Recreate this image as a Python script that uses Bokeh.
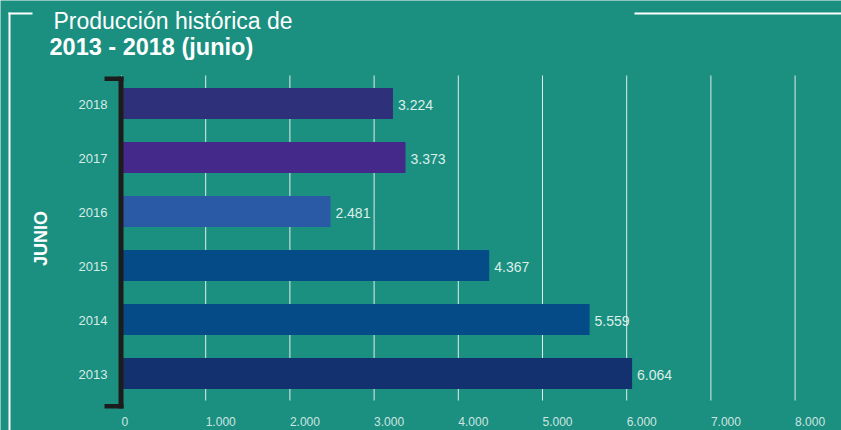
import math
from bokeh.plotting import figure
from bokeh.models import Range1d, ColumnDataSource
from bokeh.core.properties import value
from bokeh.embed import file_html
from bokeh.resources import INLINE

# ---------------- data ----------------
years = [2013, 2014, 2015, 2016, 2017, 2018]
year_labels = ["2013", "2014", "2015", "2016", "2017", "2018"]
production = [6064, 5559, 4367, 2481, 3373, 3224]
value_labels = ["6.064", "5.559", "4.367", "2.481", "3.373", "3.224"]
bar_colors = ["#13316e", "#054b88", "#054b88", "#2a5aa6", "#45298a", "#2e3179"]
x_ticks = [0, 1000, 2000, 3000, 4000, 5000, 6000, 7000, 8000]
x_tick_labels = ["0", "1.000", "2.000", "3.000", "4.000", "5.000", "6.000", "7.000", "8.000"]
title_line1 = "Producción histórica de"
title_line2 = "2013 - 2018 (junio)"
side_label = "JUNIO"

# ---------------- layout / style ----------------
BG = "#1b8f80"
FONT = "Liberation Sans"
W, H = 841, 430
KX = 84.2 / 1000.0      # px per unit on x
X0 = 121.0              # px of x = 0
KY = 54.0               # px per year row
Y_REF_PX = 373.0        # px of first year's row centre

x_start = -X0 / KX
x_end = x_start + W / KX
y_top = years[0] + Y_REF_PX / KY
y_bottom = years[0] - (H - Y_REF_PX) / KY


def xd(px):
    return x_start + px / KX


def yd(py):
    return years[0] + (Y_REF_PX - py) / KY


p = figure(width=W, height=H, x_range=Range1d(x_start, x_end),
           y_range=Range1d(y_bottom, y_top), output_backend="svg",
           toolbar_location=None, min_border=0)
p.min_border_left = p.min_border_right = p.min_border_top = p.min_border_bottom = 0
p.background_fill_color = BG
p.border_fill_color = BG
p.outline_line_color = None
p.axis.visible = False
p.grid.visible = False

# vertical grid lines (behind bars)
p.segment(x0=x_ticks, x1=x_ticks, y0=[yd(75)] * len(x_ticks), y1=[yd(400)] * len(x_ticks),
          line_color="white", line_alpha=0.85, line_width=1)

src = ColumnDataSource(dict(years=years, year_labels=year_labels, production=production,
                            value_labels=value_labels, colors=bar_colors))

p.hbar(y="years", right="production", left=0, height=31 / KY, color="colors",
       line_color=None, source=src)

# value labels
p.text(x="production", y="years", text="value_labels", source=src, x_offset=5,
       y_offset=1, text_baseline="middle", text_align="left",
       text_font=value(FONT), text_font_size="14px", text_color="#dcefea")

# y (category) labels
p.text(x=0, y="years", text="year_labels", source=src, x_offset=-14,
       y_offset=1, text_baseline="middle", text_align="right",
       text_font=value(FONT), text_font_size="13px", text_color="#d6ece6")

# x tick labels
p.text(x=x_ticks, y=[yd(416)] * len(x_ticks), text=x_tick_labels,
       text_baseline="top", text_align="left",
       text_font=value(FONT), text_font_size="12px", text_color="#cfe6e0")

# frame lines
p.segment(x0=[xd(9), xd(8), xd(634)], x1=[xd(9), xd(32), xd(841)],
          y0=[yd(12), yd(13), yd(13)], y1=[yd(430), yd(13), yd(13)],
          line_color="white", line_width=2)

# bracket
p.quad(left=[xd(118), xd(104), xd(104)], right=[xd(123), xd(123), xd(123)],
       top=[yd(76), yd(76), yd(403.5)], bottom=[yd(408), yd(80.5), yd(408)],
       fill_color="#1c1c1c", line_color=None)

# titles
p.text(x=[xd(53)], y=[yd(20.5)], text=[title_line1], text_baseline="alphabetic",
       text_align="left", text_font=value(FONT), text_font_size="23px",
       text_color="white")
p.text(x=[xd(49)], y=[yd(46.5)], text=[title_line2], text_baseline="alphabetic",
       text_align="left", text_font=value(FONT), text_font_size="23.5px",
       text_font_style="bold", text_color="white")

# side label
p.text(x=[xd(40)], y=[yd(238)], text=[side_label], angle=math.pi / 2,
       text_baseline="middle", text_align="center",
       text_font=value(FONT), text_font_size="18px",
       text_font_style="bold", text_color="white")

html = file_html(p, INLINE)
open("out.html", "w").write(html)
